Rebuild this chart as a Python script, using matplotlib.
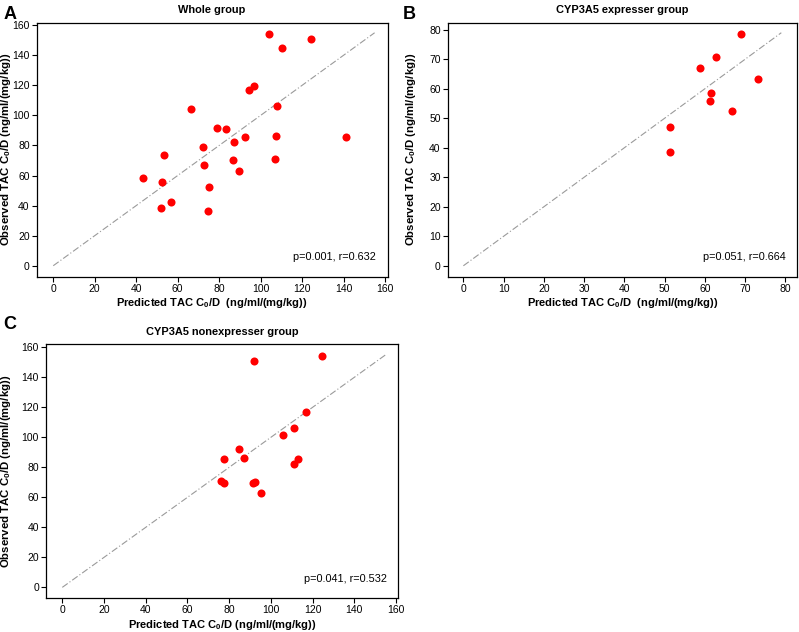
import matplotlib.pyplot as plt

plt.rcParams['font.family'] = ['Liberation Sans', 'DejaVu Sans']
plt.rcParams['mathtext.fontset'] = 'custom'
plt.rcParams['mathtext.rm'] = 'Liberation Sans'
plt.rcParams['mathtext.bf'] = 'Liberation Sans:bold'

# Whole group (predicted, observed)
whole_pred = [104.2, 124.1, 110.3, 94.5, 97.0, 66.4, 108.1, 79.1, 83.3, 92.6,
              107.6, 141.2, 87.2, 72.0, 53.5, 72.7, 86.5, 106.9, 89.4, 43.4,
              52.6, 75.1, 56.9, 51.9, 74.8]
whole_obs = [154.5, 150.9, 144.9, 116.7, 119.6, 104.1, 106.5, 91.7, 91.2, 85.7,
             86.3, 85.9, 82.3, 78.8, 73.5, 67.2, 70.6, 70.8, 63.2, 58.6,
             55.9, 52.2, 42.2, 38.4, 36.6]

# CYP3A5 expresser group
expr_pred = [69.1, 62.8, 58.7, 73.1, 61.5, 61.2, 66.8, 51.4, 51.3]
expr_obs = [78.6, 70.7, 67.2, 63.2, 58.6, 56.0, 52.3, 46.9, 38.5]

# CYP3A5 nonexpresser group
nonexpr_pred = [124.3, 91.7, 117.0, 111.1, 105.8, 84.9, 77.5, 86.9, 113.0, 110.9,
                76.1, 77.5, 91.6, 92.5, 95.3]
nonexpr_obs = [154.2, 151.1, 116.7, 106.2, 101.8, 92.0, 85.3, 86.2, 85.8, 82.2,
               70.7, 69.3, 69.6, 70.2, 62.7]

fig = plt.figure(figsize=(7.99, 6.32), dpi=100)

panels = [
    dict(rect=[0.0459, 0.5622, 0.4393, 0.4019], title="Whole group",
         x=whole_pred, y=whole_obs, lim=155, ticks=range(0, 161, 20),
         xlim=(-8, 161.3), ylim=(-7.3, 161.7), note="p=0.001, r=0.632", ylx=-0.068,
         xlabel=r"Predicted TAC C$_\mathbf{0}$/D  (ng/ml/(mg/kg))"),
    dict(rect=[0.5603, 0.5622, 0.4377, 0.4019], title="CYP3A5 expresser group",
         x=expr_pred, y=expr_obs, lim=79, ticks=range(0, 81, 10),
         xlim=(-3.9, 83.0), ylim=(-3.7, 82.4), note="p=0.051, r=0.664", ylx=-0.085,
         xlabel=r"Predicted TAC C$_\mathbf{0}$/D  (ng/ml/(mg/kg))"),
    dict(rect=[0.0576, 0.0533, 0.4409, 0.4019], title="CYP3A5 nonexpresser group",
         x=nonexpr_pred, y=nonexpr_obs, lim=155, ticks=range(0, 161, 20),
         xlim=(-7.8, 161.1), ylim=(-7.3, 162), note="p=0.041, r=0.532", ylx=-0.093,
         xlabel=r"Predicted TAC C$_\mathbf{0}$/D (ng/ml/(mg/kg))"),
]

for p in panels:
    ax = fig.add_axes(p["rect"])
    ax.plot([0, p["lim"]], [0, p["lim"]], color="#9a9a9a", lw=0.8,
            linestyle=(0, (6, 2, 1, 2)))
    ax.plot(p["x"], p["y"], "o", color="#ff0000", markersize=5.8, markeredgewidth=0)
    ax.set_xlim(p["xlim"])
    ax.set_ylim(p["ylim"])
    ax.set_xticks(list(p["ticks"]))
    ax.set_yticks(list(p["ticks"]))
    ax.tick_params(direction="out", length=3.5, width=0.8, labelsize=7.5, pad=1.5)
    for s in ax.spines.values():
        s.set_linewidth(0.9)
    ax.set_title(p["title"], fontsize=7.9, fontweight="bold", pad=7)
    ax.set_xlabel(p["xlabel"], fontsize=8, fontweight="bold", labelpad=2)
    ax.set_ylabel(r"Observed TAC C$_\mathbf{0}$/D (ng/ml/(mg/kg))", fontsize=8.2,
                  fontweight="bold")
    ax.yaxis.set_label_coords(p["ylx"], 0.5)
    ax.text(0.967, 0.078, p["note"], transform=ax.transAxes, ha="right",
            va="center", fontsize=7.8)

fig.text(0.004, 0.99, "A", fontsize=13, fontweight="bold", va="top")
fig.text(0.504, 0.99, "B", fontsize=13, fontweight="bold", va="top")
fig.text(0.004, 0.50, "C", fontsize=13, fontweight="bold", va="top")

fig.savefig("out.png", dpi=100)
